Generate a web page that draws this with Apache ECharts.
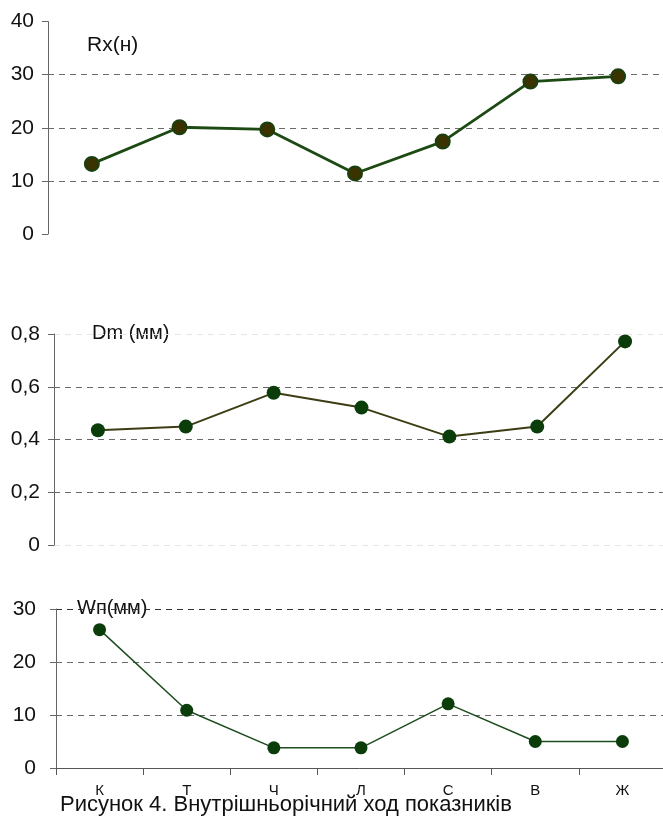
<!DOCTYPE html>
<html>
<head>
<meta charset="utf-8">
<script src="https://cdn.jsdelivr.net/npm/echarts@6/dist/echarts.min.js"></script>
<style>
html,body{margin:0;padding:0;background:#fff;}
#c{width:663px;height:821px;}
</style>
</head>
<body>
<div id="c"></div>
<script>
const categories = ['К', 'Т', 'Ч', 'Л', 'С', 'В', 'Ж'];
const rxValues = [13.2, 20.1, 19.7, 11.4, 17.4, 28.7, 29.7];
const dmValues = [0.435, 0.449, 0.577, 0.521, 0.411, 0.449, 0.772];
const wpValues = [26.1, 10.9, 3.8, 3.8, 12.1, 5.0, 5.0];
const rxTicks = [0, 10, 20, 30, 40];
const dmTicks = ['0', '0,2', '0,4', '0,6', '0,8'];
const wpTicks = [0, 10, 20, 30];
const panelTitles = ['Rx(н)', 'Dm (мм)', 'Wп(мм)'];
const caption = 'Рисунок 4. Внутрішньорічний ход показників';

const FONT = 'Liberation Sans, Arial, sans-serif';
const chart = echarts.init(document.getElementById('c'), null, {renderer: 'canvas'});

function yAxis(gridIndex, max, interval, gridColors, margin, fmt) {
  return {
    type: 'value', gridIndex, min: 0, max, interval,
    axisLine: {show: true, lineStyle: {color: '#666', width: 1}},
    axisTick: {show: true, length: 6, lineStyle: {color: '#666'}},
    axisLabel: {color: '#111', fontSize: 21, fontFamily: FONT, margin, formatter: fmt},
    splitLine: {show: true, lineStyle: {color: gridColors, type: [6, 5], width: 1}}
  };
}

const option = {
  backgroundColor: '#fff',
  animation: false,
  grid: [
    {left: 48, top: 21.6, width: 614, height: 212.4, containLabel: false, outerBoundsMode: 'none'},
    {left: 54, top: 334, width: 615, height: 211, containLabel: false, outerBoundsMode: 'none'},
    {left: 56, top: 609, width: 610, height: 159, containLabel: false, outerBoundsMode: 'none'}
  ],
  xAxis: [
    {type: 'category', gridIndex: 0, data: categories, boundaryGap: true, show: false},
    {type: 'category', gridIndex: 1, data: categories, boundaryGap: true, show: false},
    {type: 'category', gridIndex: 2, data: categories, boundaryGap: true,
     axisLine: {show: true, lineStyle: {color: '#555', width: 1}},
     axisTick: {show: true, length: 7, alignWithLabel: false, lineStyle: {color: '#555'}},
     axisLabel: {color: '#111', fontSize: 15, fontFamily: FONT, margin: 15},
     splitLine: {show: false}}
  ],
  yAxis: [
    yAxis(0, 40, 10, ['rgba(0,0,0,0)', '#6a6a6a', '#6a6a6a', '#6a6a6a', 'rgba(0,0,0,0)'], 14,
          v => String(rxTicks[Math.round(v / 10)])),
    yAxis(1, 0.8, 0.2, ['#e6e6e6', '#6a6a6a', '#6a6a6a', '#6a6a6a', '#e6e6e6'], 14,
          v => dmTicks[Math.round(v / 0.2)]),
    yAxis(2, 30, 10, ['rgba(0,0,0,0)', '#6a6a6a', '#6a6a6a', '#333'], 20,
          v => String(wpTicks[Math.round(v / 10)]))
  ],
  series: [
    {type: 'line', xAxisIndex: 0, yAxisIndex: 0, data: rxValues, symbol: 'circle', symbolSize: 14,
     lineStyle: {color: '#1c4a12', width: 2.8},
     itemStyle: {color: '#3a3300', borderColor: '#1a4010', borderWidth: 2}, z: 5},
    {type: 'line', xAxisIndex: 1, yAxisIndex: 1, data: dmValues, symbol: 'circle', symbolSize: 14,
     lineStyle: {color: '#3d3d14', width: 2},
     itemStyle: {color: '#0b3d0b', borderColor: '#0b3d0b', borderWidth: 0}, z: 5},
    {type: 'line', xAxisIndex: 2, yAxisIndex: 2, data: wpValues, symbol: 'circle', symbolSize: 13,
     lineStyle: {color: '#1e4d1e', width: 1.5},
     itemStyle: {color: '#0a3d0a', borderColor: '#0a3d0a', borderWidth: 0}, z: 5}
  ],
  graphic: [
    {type: 'text', left: 87, top: 35, z: -1, style: {text: panelTitles[0], fill: '#111', font: '21px ' + FONT}},
    {type: 'text', left: 92, top: 323, z: -1, style: {text: panelTitles[1], fill: '#111', font: '20px ' + FONT}},
    {type: 'text', left: 77, top: 598, z: -1, style: {text: panelTitles[2], fill: '#111', font: '20px ' + FONT}},
    {type: 'text', left: 60, top: 794, z: 10, style: {text: caption, fill: '#111', font: '22px ' + FONT}}
  ]
};
chart.setOption(option);
</script>
</body>
</html>
